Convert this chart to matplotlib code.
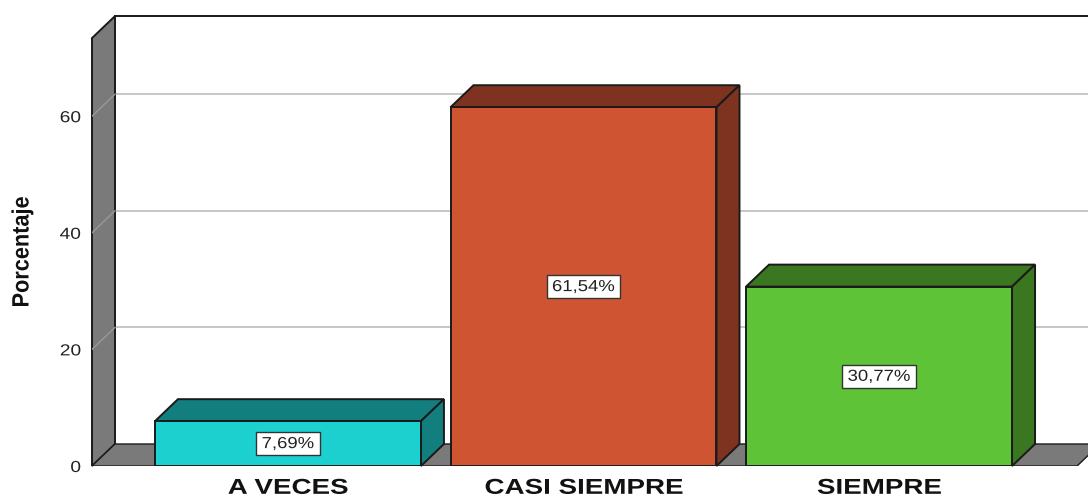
import matplotlib
matplotlib.use("Agg")

import matplotlib.pyplot as plt
from matplotlib.patches import Polygon
from matplotlib.path import Path
from matplotlib.patheffects import AbstractPathEffect
from matplotlib.transforms import Affine2D

categories = ["A VECES", "CASI SIEMPRE", "SIEMPRE"]
values = [7.69, 61.54, 30.77]
labels = ["7,69%", "61,54%", "30,77%"]
y_ticks = [0, 20, 40, 60]

front_colors = ["#1CD0D0", "#CF5432", "#5FC337"]
dark_colors = ["#127E7E", "#7E3320", "#3B7620"]
WALL = "#7A7A7A"
EDGE = "#1A1A1A"

W, H = 1088, 498
BAR_W = 0.9
# 3D offset in data units
DX = 23 / 295.5
DY = 22 / 5.83
XMIN, XMAX = -0.663, 2.707
YMAX = 73.4
FLOOR_END = 2.67

plt.rcParams["font.family"] = ["Liberation Sans", "DejaVu Sans"]


class Stretch(AbstractPathEffect):
    """Widen glyphs along the baseline, the reference text is stretched."""

    def __init__(self, sx, anchor=0.5):
        super().__init__()
        self.sx = sx
        self.anchor = anchor

    def draw_path(self, renderer, gc, tpath, affine, rgbFace=None):
        e = tpath.get_extents()
        a = e.x0 + self.anchor * e.width
        t = Affine2D().translate(-a, 0).scale(self.sx, 1).translate(a, 0)
        renderer.draw_path(gc, tpath, t + affine, rgbFace)


def wide_box(x0, y0, w, h, mutation_size):
    """Label box with more padding left/right than top/bottom."""
    px, py = 0.6 * mutation_size, 0.24 * mutation_size
    x0, x1, y0, y1 = x0 - px, x0 + w + px, y0 - py, y0 + h + py
    return Path([(x0, y0), (x1, y0), (x1, y1), (x0, y1), (x0, y0)], closed=True)


fig = plt.figure(figsize=(W / 100, H / 100), dpi=100)
ax = fig.add_axes([92 / W, 1 - 466 / H, 996 / W, (466 - 16) / H])
ax.set_xlim(XMIN, XMAX)
ax.set_ylim(0, (466 - 16) / 5.83)
for s in ax.spines.values():
    s.set_visible(False)

# side wall and floor
ax.add_patch(Polygon([(XMIN, 0), (XMIN + DX, DY), (XMIN + DX, YMAX + DY), (XMIN, YMAX)],
                     fc=WALL, ec=EDGE, lw=1.4, clip_on=False, zorder=1))
ax.add_patch(Polygon([(XMIN, 0), (XMIN + DX, DY), (FLOOR_END + DX, DY), (FLOOR_END, 0)],
                     fc=WALL, ec=EDGE, lw=1.0, clip_on=True, zorder=1))
ax.plot([XMIN + DX, XMAX], [YMAX + DY, YMAX + DY], color=EDGE, lw=1.4, zorder=1, clip_on=False)

# gridlines, back wall plus the diagonal across the side wall
for t in y_ticks[1:]:
    ax.plot([XMIN + DX, XMAX], [t + DY, t + DY], color="#BDBDBD", lw=1.2, zorder=0.5)
    ax.plot([XMIN, XMIN + DX], [t, t + DY], color="#989898", lw=1.0, zorder=1.5)

xs = list(range(len(categories)))
ax.bar(xs, values, width=BAR_W, color=front_colors, edgecolor=EDGE, linewidth=1.4, zorder=3)

for x, v, dark, lab in zip(xs, values, dark_colors, labels):
    l, r = x - BAR_W / 2, x + BAR_W / 2
    ax.add_patch(Polygon([(l, v), (l + DX, v + DY), (r + DX, v + DY), (r, v)],
                         fc=dark, ec=EDGE, lw=1.4, zorder=2.5, clip_on=False))
    ax.add_patch(Polygon([(r, 0), (r + DX, DY), (r + DX, v + DY), (r, v)],
                         fc=dark, ec=EDGE, lw=1.4, zorder=2.5, clip_on=False))
    ax.text(x, v / 2, lab, ha="center", va="center", fontsize=11.5, color="#222222", zorder=5,
            bbox=dict(boxstyle=wide_box, fc="white", ec="#333333", lw=1),
            path_effects=[Stretch(1.16)])

ax.set_yticks(y_ticks)
ax.set_yticklabels([str(t) for t in y_ticks], fontsize=11.5, color="#222222")
ax.tick_params(axis="y", length=0, pad=8)
for tl in ax.get_yticklabels():
    tl.set_path_effects([Stretch(1.2, anchor=1.0)])
ax.set_xticks(xs)
ax.set_xticklabels(categories, fontsize=15.5, fontweight="bold", color="#111111")
ax.tick_params(axis="x", length=0, pad=8.5)
for tl in ax.get_xticklabels():
    tl.set_path_effects([Stretch(1.29)])

fig.text(22 / W, 1 - 252 / H, "Porcentaje", rotation=90, ha="center", va="center",
         fontsize=17, fontweight="bold", color="#111111", path_effects=[Stretch(0.92)])

fig.savefig("out.png", dpi=100)
plt.close(fig)
